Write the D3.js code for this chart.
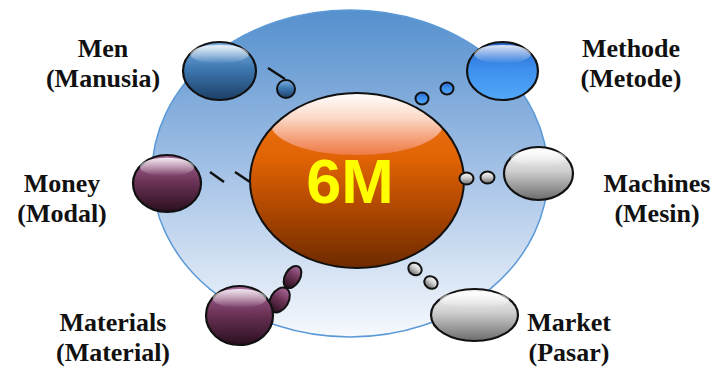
<!DOCTYPE html>
<html>
<head>
<meta charset="utf-8">
<script src="https://cdn.jsdelivr.net/npm/d3@7"></script>
<style>
  html, body { margin: 0; padding: 0; background: #fff; }
  svg { display: block; }
</style>
</head>
<body>
<div id="chart"></div>
<script>
// the six M's and their Indonesian names
const names = ["Men", "Methode", "Money", "Machines", "Materials", "Market"];
const translations = ["Manusia", "Metode", "Modal", "Mesin", "Material", "Pasar"];
const centerLabel = "6M";

// gloss palettes (top, middle, bottom)
const palettes = {
    steel: ["#7fb2e2", "#3f79b2", "#1c3f66"],
    azure: ["#2a62c8", "#3c8fec", "#52a8f8"],
    plum: ["#a9689a", "#6e3559", "#2a0e1e"],
    silver: ["#fbfbfb", "#cfcfcf", "#6c6c6c"]
};

// layout: node ellipse, small connector bubbles, dashes, label anchor
const layout = {
    Men: { pal: "steel", cx: 219.5, cy: 71, rx: 36.5, ry: 29, label: [103, 57],
        bubbles: [[286, 89, 9, 9, 0]], dashes: [[268, 68, 285, 79]] },
    Methode: { pal: "azure", cx: 502.5, cy: 71, rx: 35.5, ry: 29, label: [631, 57],
        bubbles: [[447, 88.5, 6.5, 6, 0], [422, 98.5, 6.5, 6, 0]], dashes: [] },
    Money: { pal: "plum", cx: 167, cy: 183.5, rx: 34, ry: 28.5, label: [62, 192],
        bubbles: [], dashes: [[210, 172, 224, 182], [235, 172, 250, 182]] },
    Machines: { pal: "silver", cx: 538.5, cy: 173.5, rx: 34.5, ry: 26.5, label: [657, 192],
        bubbles: [[466.5, 178.5, 7, 6, 0], [487.5, 177.5, 7, 6, 0]], dashes: [] },
    Materials: { pal: "plum", cx: 239.5, cy: 315.5, rx: 33.5, ry: 29.5, label: [113, 331],
        bubbles: [[279.5, 300, 9, 13.5, 30], [292.5, 277, 7.5, 12, 30]], dashes: [] },
    Market: { pal: "silver", cx: 474.5, cy: 315, rx: 43.5, ry: 26, label: [569, 331],
        bubbles: [[415, 269, 7, 6, 35], [431, 282.5, 7, 6, 35]], dashes: [] }
};

const width = 720, height = 369;

const svg = d3.select("#chart").append("svg")
    .attr("width", width)
    .attr("height", height);

const defs = svg.append("defs");

function vGradient(id, stops) {
    const g = defs.append("linearGradient")
        .attr("id", id)
        .attr("x1", 0).attr("y1", 0).attr("x2", 0).attr("y2", 1);
    stops.forEach(([offset, color, opacity]) => {
        g.append("stop")
            .attr("offset", offset)
            .attr("stop-color", color)
            .attr("stop-opacity", opacity == null ? 1 : opacity);
    });
}

vGradient("bg", [["0%", "#5590cd"], ["45%", "#9dbde4"], ["100%", "#f7f9fd"]]);
vGradient("core", [["0%", "#f07a18"], ["38%", "#e06204"], ["70%", "#a84400"], ["100%", "#6e2a00"]]);
vGradient("coreShine", [["0%", "#ffffff", 1], ["40%", "#fde3d8", 0.92], ["100%", "#f3825a", 0.75]]);
vGradient("shine", [["0%", "#ffffff", 0.85], ["100%", "#ffffff", 0]]);
Object.entries(palettes).forEach(([key, [top, mid, bottom]]) => {
    vGradient("pal-" + key, [["0%", top], ["45%", mid], ["100%", bottom]]);
});

const core = { cx: 357, cy: 180.5, rx: 107, ry: 87.5 };
defs.append("clipPath").attr("id", "coreClip")
    .append("ellipse")
    .attr("cx", core.cx).attr("cy", core.cy)
    .attr("rx", core.rx).attr("ry", core.ry);

/**
 * background disc
 */
svg.append("ellipse")
    .attr("cx", 350).attr("cy", 173.5)
    .attr("rx", 198).attr("ry", 163.5)
    .attr("fill", "url(#bg)")
    .attr("stroke", "#5b9ad8")
    .attr("stroke-width", 1.5);

/**
 * dashes
 */
names.forEach(n => {
    svg.selectAll(null)
        .data(layout[n].dashes)
        .enter()
        .append("line")
        .attr("x1", d => d[0]).attr("y1", d => d[1])
        .attr("x2", d => d[2]).attr("y2", d => d[3])
        .attr("stroke", "#111")
        .attr("stroke-width", 2.5);
});

/**
 * centre sphere
 */
const coreG = svg.append("g");
coreG.append("ellipse")
    .attr("cx", core.cx).attr("cy", core.cy)
    .attr("rx", core.rx).attr("ry", core.ry)
    .attr("fill", "url(#core)");
coreG.append("ellipse")
    .attr("clip-path", "url(#coreClip)")
    .attr("cx", core.cx).attr("cy", 124)
    .attr("rx", 86).attr("ry", 31)
    .attr("fill", "url(#coreShine)");
coreG.append("ellipse")
    .attr("cx", core.cx).attr("cy", core.cy)
    .attr("rx", core.rx).attr("ry", core.ry)
    .attr("fill", "none")
    .attr("stroke", "#111")
    .attr("stroke-width", 2);
coreG.append("text")
    .attr("x", 350).attr("y", 203)
    .attr("text-anchor", "middle")
    .attr("font-family", "Liberation Sans, Arial, sans-serif")
    .attr("font-weight", "bold")
    .attr("font-size", 63)
    .attr("fill", "#ffff00")
    .text(centerLabel);

/**
 * connector bubbles
 */
names.forEach(n => {
    const node = layout[n];
    svg.selectAll(null)
        .data(node.bubbles)
        .enter()
        .append("ellipse")
        .attr("transform", d => `translate(${d[0]},${d[1]}) rotate(${d[4]})`)
        .attr("rx", d => d[2]).attr("ry", d => d[3])
        .attr("fill", "url(#pal-" + node.pal + ")")
        .attr("stroke", "#111")
        .attr("stroke-width", 2);
});

/**
 * glossy nodes
 */
const nodes = svg.selectAll("g.node")
    .data(names)
    .enter()
    .append("g")
    .attr("class", "node");

nodes.append("ellipse")
    .attr("cx", d => layout[d].cx).attr("cy", d => layout[d].cy)
    .attr("rx", d => layout[d].rx).attr("ry", d => layout[d].ry)
    .attr("fill", d => "url(#pal-" + layout[d].pal + ")")
    .attr("stroke", "#111")
    .attr("stroke-width", 2.2);

nodes.append("ellipse")
    .attr("cx", d => layout[d].cx)
    .attr("cy", d => layout[d].cy - layout[d].ry * 0.58)
    .attr("rx", d => layout[d].rx * 0.8)
    .attr("ry", d => layout[d].ry * 0.32)
    .attr("fill", "url(#shine)");

/**
 * labels
 */
const labels = svg.selectAll("text.label")
    .data(names)
    .enter()
    .append("text")
    .attr("class", "label")
    .attr("text-anchor", "middle")
    .attr("font-family", "Liberation Serif, 'Times New Roman', serif")
    .attr("font-weight", "bold")
    .attr("font-size", 26)
    .attr("fill", "#111");

labels.append("tspan")
    .attr("x", d => layout[d].label[0])
    .attr("y", d => layout[d].label[1])
    .text(d => d);

labels.append("tspan")
    .attr("x", d => layout[d].label[0])
    .attr("y", d => layout[d].label[1] + 30)
    .text((d, i) => "(" + translations[i] + ")");
</script>
</body>
</html>
